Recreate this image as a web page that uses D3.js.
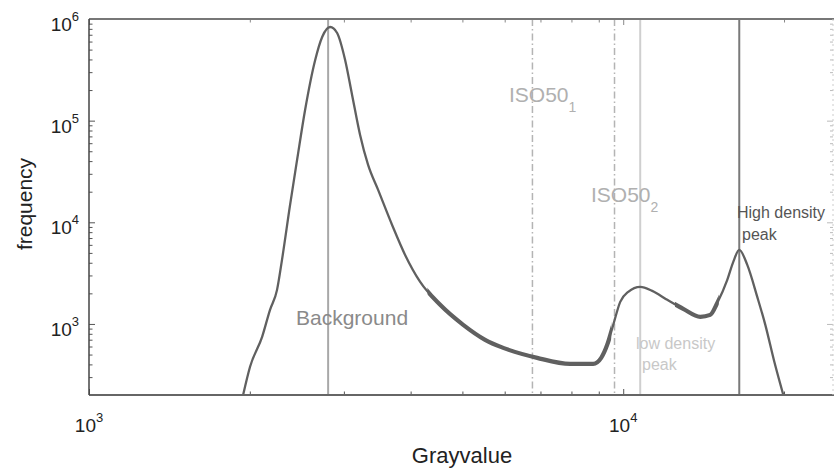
<!DOCTYPE html>
<html>
<head>
<meta charset="utf-8">
<script src="https://cdn.jsdelivr.net/npm/d3@7"></script>
<style>
  html, body { margin: 0; padding: 0; background: #fff; }
  svg { display: block; font-family: "Liberation Sans", Arial, sans-serif; }
</style>
</head>
<body>
<svg id="chart" width="834" height="472"></svg>
<script>
// ---- data ----
const grayValues = [1943, 2002, 2109, 2182, 2249, 2298, 2379, 2452, 2538, 2651, 2732, 2828, 2914, 3016, 3108, 3217, 3330, 3477, 3693, 3906, 4168, 4543, 5017, 5514, 5961, 6902, 7955, 8787, 9095, 9333, 9579, 9872, 10220, 10760, 11330, 12090, 12950, 13940, 14550, 15000, 15660, 16070, 16490, 17070, 17820, 18450, 19180, 19940];
const frequencies = [200, 379, 747, 1376, 2164, 4300, 14830, 41100, 127400, 395300, 665300, 834000, 728000, 395000, 179000, 72300, 36650, 20830, 9420, 4780, 2594, 1542, 980, 698, 582, 464, 405, 405, 464, 623, 980, 1649, 2069, 2317, 2115, 1726, 1407, 1175, 1228, 1612, 2715, 4080, 5350, 3810, 1847, 980, 424, 200];
// grayvalue ranges where the histogram is noisy (drawn as a thicker band)
const noisyRanges = [[4300, 9500], [12500, 15100]];

const markerNames = ["Background", "ISO50_1", "ISO50_2", "low density peak", "High density peak"];
const markerValues = [2803, 6762, 9632, 10760, 16490];

const xTickValues = [1000, 10000];
const xTickExponents = ["3", "4"];
const yTickValues = [1000, 10000, 100000, 1000000];
const yTickExponents = ["3", "4", "5", "6"];
const xDomain = [1000, 24700];
const yDomain = [200, 1000000];

// ---- layout ----
const svg = d3.select("#chart");
const L = 89, R = 833, T = 19, B = 395;
const x = d3.scaleLog().domain(xDomain).range([L, R]);
const y = d3.scaleLog().domain(yDomain).range([B, T]);

// minor tick values
const xMinor = [];
for (let k = 3; k <= 4; k++) for (let m = 2; m <= 9; m++) { const v = m * Math.pow(10, k); if (v > xDomain[0] && v < xDomain[1]) xMinor.push(v); }
const yMinor = [];
for (let k = 2; k <= 5; k++) for (let m = 2; m <= 9; m++) { const v = m * Math.pow(10, k); if (v > yDomain[0] && v < yDomain[1] && !yTickValues.includes(v)) yMinor.push(v); }

const defs = svg.append("defs");
defs.append("clipPath").attr("id", "clip")
  .append("rect").attr("x", L).attr("y", T).attr("width", R - L).attr("height", B - T);
noisyRanges.forEach((r, i) => {
  defs.append("clipPath").attr("id", "noise" + i)
    .append("rect").attr("x", x(r[0])).attr("y", T).attr("width", x(r[1]) - x(r[0])).attr("height", B - T);
});

// ---- marker lines ----
const markerStyle = [
  { color: "#a8a8a8", width: 2, dash: null },
  { color: "#b4b4b4", width: 1.5, dash: "7,3,1.5,3" },
  { color: "#b4b4b4", width: 1.5, dash: "7,3,1.5,3" },
  { color: "#cfcfcf", width: 2, dash: null },
  { color: "#7a7a7a", width: 2, dash: null }
];
svg.append("g").selectAll("line").data(markerValues).join("line")
  .attr("x1", d => x(d)).attr("x2", d => x(d))
  .attr("y1", T).attr("y2", B)
  .attr("stroke", (d, i) => markerStyle[i].color)
  .attr("stroke-width", (d, i) => markerStyle[i].width)
  .attr("stroke-dasharray", (d, i) => markerStyle[i].dash);

// ---- histogram curve ----
const pts = grayValues.map((g, i) => [g, frequencies[i]]);
const line = d3.line().x(d => x(d[0])).y(d => y(d[1])).curve(d3.curveMonotoneX);
svg.append("path").datum(pts)
  .attr("clip-path", "url(#clip)")
  .attr("d", line)
  .attr("fill", "none")
  .attr("stroke", "#606060")
  .attr("stroke-width", 2.3)
  .attr("stroke-linejoin", "round");
// thicker, noisy-looking band in the low-count regions
noisyRanges.forEach((r, i) => {
  svg.append("g").attr("clip-path", `url(#noise${i})`)
    .append("path").datum(pts)
    .attr("d", line)
    .attr("fill", "none")
    .attr("stroke", "#606060")
    .attr("stroke-width", 4.2)
    .attr("stroke-linejoin", "round");
});

// ---- axes ----
const axisColor = "#555";
const gB = svg.append("g").attr("transform", `translate(0,${B})`);
gB.call(d3.axisBottom(x).tickValues(xTickValues).tickSize(-6).tickFormat(""));
gB.append("g").call(d3.axisBottom(x).tickValues(xMinor).tickSize(-3.5).tickFormat(""));
gB.selectAll(".domain").remove();
gB.selectAll("line").attr("stroke", axisColor);
const gT = svg.append("g").attr("transform", `translate(0,${T})`);
gT.call(d3.axisTop(x).tickValues(xTickValues).tickSize(-6).tickFormat(""));
gT.append("g").call(d3.axisTop(x).tickValues(xMinor).tickSize(-3.5).tickFormat(""));
gT.selectAll(".domain").remove();
gT.selectAll("line").attr("stroke", "#888");
const gL = svg.append("g").attr("transform", `translate(${L},0)`);
gL.call(d3.axisLeft(y).tickValues(yTickValues).tickSize(-6).tickFormat(""));
gL.append("g").call(d3.axisLeft(y).tickValues(yMinor).tickSize(-3.5).tickFormat(""));
gL.selectAll(".domain").remove();
gL.selectAll("line").attr("stroke", axisColor);
const gR = svg.append("g").attr("transform", `translate(${R},0)`);
gR.call(d3.axisRight(y).tickValues(yTickValues).tickSize(-6).tickFormat(""));
gR.append("g").call(d3.axisRight(y).tickValues(yMinor).tickSize(-3).tickFormat(""));
gR.selectAll(".domain").remove();
gR.selectAll("line").attr("stroke", "#bbb");

// frame
svg.append("line").attr("x1", L).attr("x2", 834).attr("y1", T).attr("y2", T).attr("stroke", "#777").attr("stroke-width", 2);
svg.append("line").attr("x1", L).attr("x2", 834).attr("y1", B).attr("y2", B).attr("stroke", "#666").attr("stroke-width", 2);
svg.append("line").attr("x1", L).attr("x2", L).attr("y1", T).attr("y2", B).attr("stroke", "#444").attr("stroke-width", 1.5);
svg.append("line").attr("x1", R).attr("x2", R).attr("y1", T).attr("y2", B).attr("stroke", "#ccc").attr("stroke-width", 1).attr("stroke-dasharray", "2,3");

// ---- tick labels ----
const tickFont = 19, supFont = 13;
xTickValues.forEach((v, i) => {
  const t = svg.append("text").attr("x", x(v)).attr("y", 432)
    .attr("text-anchor", "middle").attr("fill", "#222").attr("font-size", tickFont);
  t.append("tspan").text("10");
  t.append("tspan").attr("font-size", supFont).attr("dy", -10).text(xTickExponents[i]);
});
yTickValues.forEach((v, i) => {
  const t = svg.append("text").attr("x", 79).attr("y", y(v) + 12)
    .attr("text-anchor", "end").attr("fill", "#222").attr("font-size", tickFont);
  t.append("tspan").text("10");
  t.append("tspan").attr("font-size", supFont).attr("dy", -10).text(yTickExponents[i]);
});

// ---- axis titles ----
svg.append("text").attr("x", 462).attr("y", 463).attr("text-anchor", "middle")
  .attr("fill", "#222").attr("font-size", 22).text("Grayvalue");
svg.append("text").attr("transform", "translate(32,204) rotate(-90)").attr("text-anchor", "middle")
  .attr("fill", "#222").attr("font-size", 21).text("frequency");

// ---- annotations ----
svg.append("text").attr("x", 296).attr("y", 325).attr("fill", "#8a8a8a").attr("font-size", 21).text("Background");

function iso(xp, yp, sub) {
  const t = svg.append("text").attr("x", xp).attr("y", yp).attr("fill", "#b0b0b0").attr("font-size", 21);
  t.append("tspan").text("ISO50");
  t.append("tspan").attr("font-size", 14).attr("dy", 10).text(sub);
}
iso(509, 102, "1");
iso(591, 202, "2");

svg.append("text").attr("x", 737).attr("y", 218).attr("fill", "#555").attr("font-size", 16).text("High density");
svg.append("text").attr("x", 742).attr("y", 240).attr("fill", "#555").attr("font-size", 16).text("peak");

svg.append("text").attr("x", 636).attr("y", 349).attr("fill", "#c8c8c8").attr("font-size", 16).text("low density");
svg.append("text").attr("x", 642).attr("y", 370).attr("fill", "#c8c8c8").attr("font-size", 16).text("peak");
</script>
</body>
</html>
